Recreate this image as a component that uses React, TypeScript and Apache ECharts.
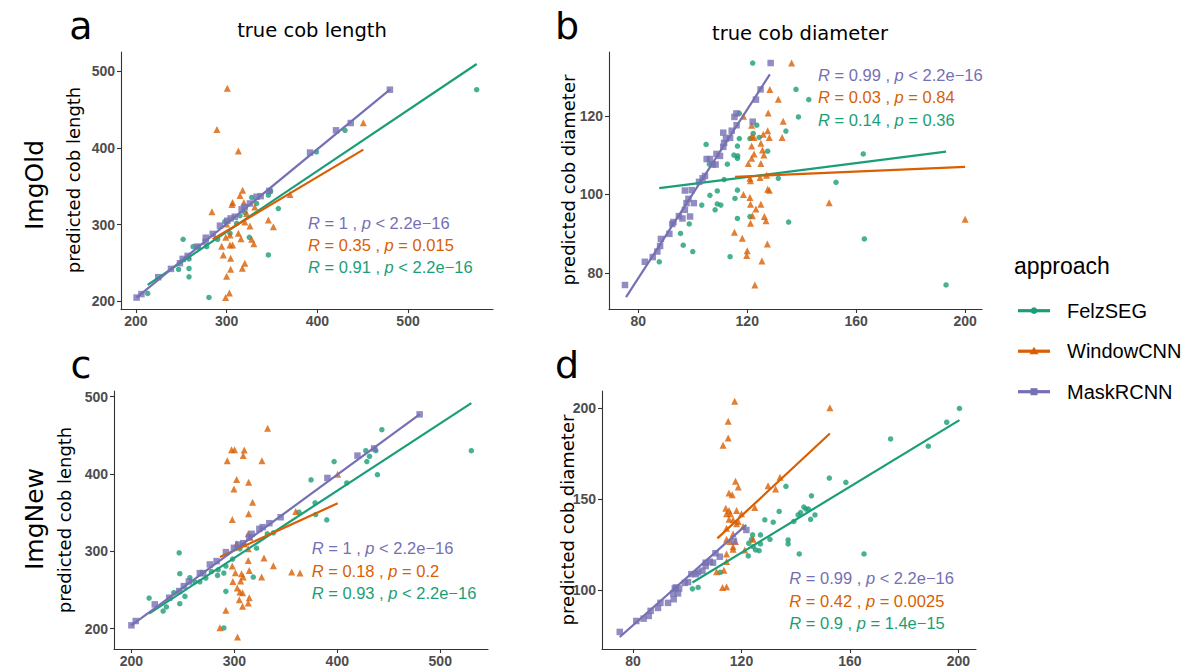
import React, { useEffect, useRef } from "react";
import * as echarts from "echarts";

const GREEN = "#1B9E77";
const ORANGE = "#D95F02";
const PURPLE = "#7570B3";

// ---------- Panel a: ImgOld, true cob length ----------
const aFelz = [[212.9,210.4],[252,281],[247,241.6],[258.5,255.4],[258.5,242.9],[258.5,232],[263,271.4],[268.8,271.4],[278,271.4],[280.5,205.2],[290,281],[298,304],[303.7,288.7],[311,301.7],[314.7,311.7],[320,316],[325,283.5],[327.6,335.5],[333,327.7],[346,338.5],[348.5,343.7],[346,260.6],[357,321],[399,394.8],[430.5,423],[575.7,476]];
const aWin = [[300.7,478],[289.3,424],[312.9,396],[283.8,317],[317.6,345],[314.7,338],[306.6,329],[305.9,326.4],[319,329],[331,323],[300,301],[312.9,288.7],[315.8,281.8],[299,283.5],[303.7,286.6],[294.5,272],[303.7,273.6],[306.6,273.6],[320,303.5],[325.7,298.3],[327.6,281],[330,275],[322,314.7],[346,306],[351.5,297.4],[296.3,260.6],[304.4,256.3],[304.4,242],[320,249.8],[317.3,243.3],[300,232.9],[298.9,205.2],[303,210.8],[369.9,339.4],[450.7,433]];
const aMask = [[200.7,205],[206,209.5],[224.6,231.6],[238.6,242.4],[248.5,249.8],[251.5,255.4],[257,259.3],[267.6,271.4],[276.8,277.5],[277,283],[284.6,288],[292.6,298.7],[300.7,305.2],[304.4,308.2],[309,310.4],[316.5,320],[320,323],[325.7,327.7],[333,336.4],[337.5,337.2],[347,344],[392,394],[420.6,423],[436.8,432.5],[480,476]];
const aFelzFit = [[212.9,221.6],[575.7,509.5]];
const aWinFit = [[284.6,281],[450.7,397.8]];
const aMaskFit = [[200.7,205],[480,476]];

// ---------- Panel b: ImgOld, true cob diameter ----------
const bFelz = [[87.7,82.9],[96.5,87.1],[100,85.5],[95.5,90.1],[98.7,92.5],[103.3,97.3],[106.3,99.8],[108.2,96.1],[109,97.6],[110.3,97.3],[109,100.9],[111.5,103.8],[106.1,107.7],[104.9,112.7],[112.7,107.7],[115.1,110],[116.5,109.8],[116.4,112.3],[116.4,109.2],[117.1,114.2],[115.5,99],[116.4,101.1],[116.4,93.9],[113.7,84.2],[117.1,120.6],[121,114.2],[122.2,115.5],[123.5,117.6],[124.4,114.5],[121,94.4],[127.5,111],[131.4,104.1],[122,133.4],[134.2,116.1],[135.2,93],[137.9,126.7],[138.8,119.7],[142.6,124.1],[152.6,103.1],[162.6,110.3],[163,88.7],[193,77]];
const bWin = [[136.3,133.4],[128.3,126.7],[131.4,124.2],[127.7,120.7],[133.2,118.6],[118.6,119.9],[121.6,117.6],[132.8,114.5],[121.6,114.8],[122.5,114.5],[125.9,115.3],[127.5,116.2],[128.1,114.5],[125,113],[121.6,112.3],[125.6,111.3],[126.1,110],[122.5,110.3],[121.6,109.2],[120.4,107.9],[125,107.9],[127.1,104.9],[124.7,104.3],[121,104.1],[121.2,103.5],[127.5,101.3],[128.1,101.1],[118.6,100],[121,99.2],[121.2,97.5],[125,97.5],[123.2,96.3],[121.9,94.6],[126.3,94.4],[126.9,93.3],[121.2,92.7],[115.3,90.4],[118.2,88.9],[120,85.7],[119.8,84.5],[127.4,87.4],[125.4,83.1],[122.8,77],[150.1,97.9],[200,93.7]];
const bMask = [[75.1,77],[82.4,82.9],[85.3,84.1],[87,85.5],[88,86.9],[88.3,88.7],[91.4,90],[92.5,92.5],[92.9,93],[94.9,94.5],[96.2,93.9],[97.1,96.1],[97.7,97.8],[98.4,98.9],[97.1,101],[99.6,101.1],[100.4,97.8],[99,94.4],[102.3,103.2],[103.6,104.1],[104.5,104.7],[105.1,109],[106.3,109],[107.3,107.6],[108.4,107.6],[108.7,110.3],[110,109.8],[111.2,112.1],[111.5,113.1],[112.2,114.2],[113.7,114.4],[111.2,115.7],[114.3,116.2],[115.3,119.7],[116,120.6],[116.1,117.6],[122,118.5],[123.2,124.1],[124.9,126.7],[128.6,133.4]];
const bFelzFit = [[87.7,101.6],[193,110.9]];
const bWinFit = [[115.5,104.5],[200,107]];
const bMaskFit = [[75.5,73.9],[128.3,130.5]];

// ---------- Panel c: ImgNew, true cob length ----------
const cFelz = [[217.2,239.6],[230.8,222.8],[234,228],[241.2,246.5],[246.4,298],[247,271],[247,232.3],[252,241.7],[256.8,265.8],[261.6,260.6],[266.5,260.6],[272.3,265.4],[277.8,274],[283.7,268.8],[284.3,276.1],[289.8,271.8],[291.8,280.9],[291.8,248.2],[289.8,200.9],[298.3,289.9],[305.4,303.2],[318.4,266.7],[321.6,304],[332,322.6],[337.9,323.9],[362.8,350.5],[374.5,392.3],[378.4,362.6],[379,347.5],[389.8,340.6],[396.9,416],[409.2,388.4],[427.7,430],[428.7,416],[431.3,422.8],[437.4,430],[439,399],[443.3,457.2],[530.2,430]];
const cWin = [[332.3,458.9],[297.3,431.4],[300.2,431.4],[309.6,431],[308.6,423.7],[293.1,417.2],[326.8,417.2],[302.2,392.7],[299.6,380.6],[313.9,389.2],[317.7,363.4],[298,341],[313.9,348.4],[400.4,399.6],[359.6,351.4],[313.5,322.6],[315.2,318.3],[302.2,309.7],[309.6,309.7],[313.5,303.2],[328.8,291.2],[337.9,281.3],[298,280.9],[301,272.3],[313.5,288.2],[314.5,275.3],[307,271],[308.6,266.7],[298.6,261],[306.1,261.5],[326.5,266.7],[355.7,273.1],[363.8,271.8],[302.8,252.5],[305.4,247.3],[308,246.5],[304.8,237.4],[314.5,240],[313.5,233.1],[308,228.8],[291.8,223.7],[286,201.3],[303.1,189.2]];
const cMask = [[200,204.3],[204.2,209.9],[222.7,231.4],[236.7,240],[246.4,248.6],[250.9,255],[255.8,261],[266.5,271.8],[269.7,271.8],[276.2,283],[282.7,287.3],[291.8,298.9],[299.6,304.5],[303.8,308.8],[308.7,310.5],[314.5,318.3],[316.8,322.6],[324.3,329],[327.5,331.2],[334,336.3],[345,344],[390.4,394.8],[419.6,423.7],[435.8,433],[480,477]];
const cFelzFit = [[217.2,219.4],[530.2,491.6]];
const cWinFit = [[286,292.5],[400.4,362]];
const cMaskFit = [[200,204.3],[480,477]];

// ---------- Panel d: ImgNew, true cob diameter ----------
const dFelz = [[101.9,100.7],[104,101.5],[112.2,109.8],[122.5,118.8],[122.7,125.8],[123.7,128],[124.1,130.4],[124.3,123.9],[125.2,122.1],[126.5,121.7],[127,125.4],[127,130.4],[128.6,138.7],[130.5,128],[131.7,137.4],[133.9,143.3],[136.4,157.1],[137.2,127.6],[137.2,125.4],[139.3,137.8],[141.3,119.9],[140.9,141.4],[141.8,142.7],[143,145.7],[143.8,144.6],[144.7,144.6],[145.8,151.9],[145.5,139],[147.1,141.4],[152.4,161.7],[158.5,159.3],[165.2,119.9],[175,183.2],[188.9,179.2],[195.7,192.4],[200.4,200]];
const dWin = [[117.5,204],[115.1,193],[115.1,183.8],[113.2,179.7],[152.6,200.4],[117.8,159.9],[118.8,156.7],[115.4,153.4],[116.6,152.5],[134.2,162.1],[129.8,157.5],[132.6,155.6],[124.9,145.5],[114.2,145.1],[115.4,143.8],[115.9,142],[114.5,142],[118.2,143.8],[120,142],[115.4,139],[116.9,138.7],[118.8,137.8],[120.6,135],[114.5,134.1],[118.2,136.5],[114.5,128],[115.7,126.7],[116.9,130.9],[117.8,126.7],[124.3,128],[116.9,123.9],[116.9,122.5],[121.2,122.1],[114.5,119.9],[114.5,115.7],[110.8,110.1],[113.5,111],[113,101.5],[114.5,101.8]];
const dMask = [[75.1,77],[81.2,83],[83.9,84.3],[85.8,85.8],[86.5,88.6],[89.2,90.2],[90.1,93],[92.9,93],[95,95],[94.8,98.2],[95.4,100.9],[96.6,98.2],[95.8,101.5],[97,100.9],[99.1,104],[100.3,104.4],[101.5,108.8],[103.1,108.8],[104,109.8],[105.6,110.7],[106.8,113.3],[106.8,115.1],[108.3,115.7],[109.5,115.1],[110.4,120.3],[112,118.4],[117.2,126.9],[121.8,133.1]];
const dFelzFit = [[101.9,104.2],[200.4,193.6]];
const dWinFit = [[111.1,128.5],[152.6,186.2]];
const dMaskFit = [[75.1,74.2],[121.8,135.9]];

// tick labels
const lengthTicks = [200, 300, 400, 500];
const diamTicksOld = [80, 120, 160, 200];
const diamYTicksOld = [80, 100, 120];
const diamYTicksNew = [100, 150, 200];

// annotations
const statsA = [["1", "<", "2.2e−16"], ["0.35", "=", "0.015"], ["0.91", "<", "2.2e−16"]];
const statsB = [["0.99", "<", "2.2e−16"], ["0.03", "=", "0.84"], ["0.14", "=", "0.36"]];
const statsC = [["1", "<", "2.2e−16"], ["0.18", "=", "0.2"], ["0.93", "<", "2.2e−16"]];
const statsD = [["0.99", "<", "2.2e−16"], ["0.42", "=", "0.0025"], ["0.9", "=", "1.4e−15"]];
const statColors = [PURPLE, ORANGE, GREEN];

const legendNames = ["FelzSEG", "WindowCNN", "MaskRCNN"];
const legendColors = [GREEN, ORANGE, PURPLE];

const SANS = "Liberation Sans, Arial, sans-serif";
const DEJA = "DejaVu Sans, sans-serif";

const panels = [
  { felz: aFelz, win: aWin, mask: aMask, felzFit: aFelzFit, winFit: aWinFit, maskFit: aMaskFit,
    grid: { left: 121, top: 52, width: 372, height: 257 }, x: [183.5, 593.7], y: [190.1, 525.1], xt: lengthTicks, yt: lengthTicks },
  { felz: bFelz, win: bWin, mask: bMask, felzFit: bFelzFit, winFit: bWinFit, maskFit: bMaskFit,
    grid: { left: 609, top: 52, width: 373, height: 257 }, x: [69.24, 206.2], y: [70.9, 136.2], xt: diamTicksOld, yt: diamYTicksOld },
  { felz: cFelz, win: cWin, mask: cMask, felzFit: cFelzFit, winFit: cWinFit, maskFit: cMaskFit,
    grid: { left: 114, top: 391, width: 374, height: 258 }, x: [183.1, 546.4], y: [173.7, 507.2], xt: lengthTicks, yt: lengthTicks },
  { felz: dFelz, win: dWin, mask: dMask, felzFit: dFelzFit, winFit: dWinFit, maskFit: dMaskFit,
    grid: { left: 602, top: 391, width: 374, height: 258 }, x: [68.55, 206.5], y: [67.6, 209.6], xt: diamTicksOld, yt: diamYTicksNew },
];

function axisCfg(gridIndex: number, min: number, max: number, ticks: number[], isX: boolean) {
  return {
    type: "value",
    gridIndex,
    min,
    max,
    splitLine: { show: false },
    axisLine: { show: true, onZero: false, lineStyle: { color: "#333333", width: 1.1 } },
    axisTick: { show: true, length: 4, customValues: ticks, lineStyle: { color: "#333333", width: 1.1 } },
    axisLabel: {
      customValues: ticks,
      color: "#4D4D4D",
      fontWeight: "bold",
      fontSize: 14,
      fontFamily: SANS,
      margin: isX ? 5 : 6,
    },
  };
}

function statText(x: number, y: number, stats: string[][]) {
  return stats.map((s, i) => ({
    type: "text",
    x,
    y: y + i * 22.3,
    style: {
      text: `{i|R} = ${s[0]} , {i|p} ${s[1]} ${s[2]}`,
      rich: { i: { fontStyle: "italic", fill: statColors[i], fontSize: 16.5, fontFamily: SANS } },
      fill: statColors[i],
      fontSize: 16.5,
      fontFamily: SANS,
      align: "left",
      verticalAlign: "middle",
    },
  }));
}

function plainText(x: number, y: number, text: string, fontSize: number, family: string, rotate = false) {
  return {
    type: "text",
    x,
    y,
    rotation: rotate ? Math.PI / 2 : 0,
    style: { text, fontSize, fontFamily: family, fill: "#000000", align: "center", verticalAlign: "middle" },
  };
}

export default function App() {
  const ref = useRef<HTMLDivElement>(null);
  useEffect(() => {
    if (!ref.current) return;
    const chart = echarts.init(ref.current, undefined, { renderer: "svg" });
    const series: any[] = [];
    panels.forEach((p, i) => {
      series.push({ type: "scatter", xAxisIndex: i, yAxisIndex: i, data: p.felz, symbol: "circle", symbolSize: 5.5, itemStyle: { color: GREEN }, z: 2 });
      series.push({ type: "scatter", xAxisIndex: i, yAxisIndex: i, data: p.win, symbol: "triangle", symbolSize: 7, itemStyle: { color: ORANGE }, z: 2 });
      series.push({ type: "scatter", xAxisIndex: i, yAxisIndex: i, data: p.mask, symbol: "rect", symbolSize: 6.5, itemStyle: { color: PURPLE }, z: 2 });
      const fits: [number[][], string][] = [[p.felzFit, GREEN], [p.winFit, ORANGE], [p.maskFit, PURPLE]];
      fits.forEach(([d, c]) => {
        series.push({ type: "line", xAxisIndex: i, yAxisIndex: i, data: d, showSymbol: false, symbol: "none", lineStyle: { color: c, width: 2.2 }, itemStyle: { color: c }, z: 3 });
      });
    });

    const graphics: any[] = [
      plainText(81, 26, "a", 38, DEJA),
      plainText(567, 26, "b", 38, DEJA),
      plainText(81, 365, "c", 38, DEJA),
      plainText(567, 365, "d", 38, DEJA),
      plainText(312, 30, "true cob length", 19.5, DEJA),
      plainText(800, 33, "true cob diameter", 19.5, DEJA),
      plainText(34, 185, "ImgOld", 25, DEJA, true),
      plainText(34, 519, "ImgNew", 25, DEJA, true),
      plainText(73, 180, "predicted cob length", 18, DEJA, true),
      plainText(568, 180, "predicted cob diameter", 18, DEJA, true),
      plainText(64, 520, "predicted cob length", 18, DEJA, true),
      plainText(567, 520, "predicted cob diameter", 18, DEJA, true),
      ...statText(308, 222.7, statsA),
      ...statText(818, 75, statsB),
      ...statText(311.7, 548.3, statsC),
      ...statText(789.3, 578.3, statsD),
      {
        type: "text",
        x: 1014,
        y: 266,
        style: { text: "approach", fontSize: 23, fontFamily: SANS, fill: "#000", align: "left", verticalAlign: "middle" },
      },
    ];
    legendNames.forEach((name, i) => {
      const y = 310.7 + i * 40.5;
      const c = legendColors[i];
      graphics.push({ type: "line", shape: { x1: 1018, y1: y, x2: 1050, y2: y }, style: { stroke: c, lineWidth: 3.2 } });
      if (i === 0) graphics.push({ type: "circle", shape: { cx: 1034, cy: y, r: 3.3 }, style: { fill: c } });
      if (i === 1) graphics.push({ type: "polygon", shape: { points: [[1034, y - 4.5], [1038.5, y + 3], [1029.5, y + 3]] }, style: { fill: c } });
      if (i === 2) graphics.push({ type: "rect", shape: { x: 1030.5, y: y - 3.5, width: 7, height: 7 }, style: { fill: c } });
      graphics.push({
        type: "text",
        x: 1067,
        y,
        style: { text: name, fontSize: 20, fontFamily: SANS, fill: "#000", align: "left", verticalAlign: "middle" },
      });
    });

    chart.setOption({
      animation: false,
      backgroundColor: "#ffffff",
      grid: panels.map((p) => ({ ...p.grid, containLabel: false })),
      xAxis: panels.map((p, i) => axisCfg(i, p.x[0], p.x[1], p.xt, true)),
      yAxis: panels.map((p, i) => axisCfg(i, p.y[0], p.y[1], p.yt, false)),
      series,
      graphic: graphics,
    });
    return () => chart.dispose();
  }, []);
  return <div ref={ref} style={{ position: "fixed", left: 0, top: 0, width: 1189, height: 669 }} />;
}
